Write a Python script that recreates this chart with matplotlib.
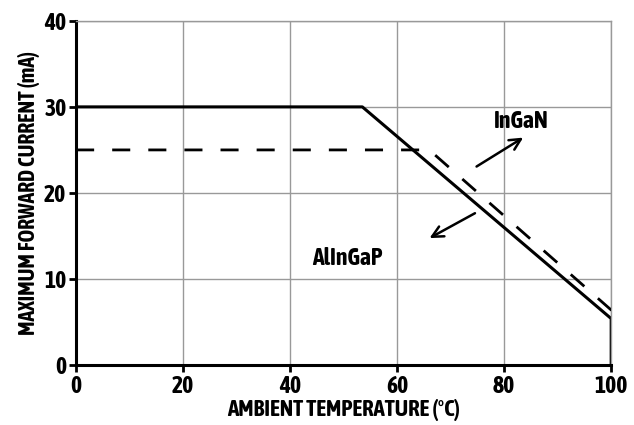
import matplotlib
matplotlib.use("Agg")
import matplotlib.pyplot as plt

# ---------- Data ----------
allingap_temp = [0, 53.5, 100, 100]
allingap_current = [30, 30, 5.4, 0]

ingan_temp = [0, 66, 100, 100]
ingan_current = [25, 25, 6.4, 7.3]

x_ticks = [0, 20, 40, 60, 80, 100]
y_ticks = [0, 10, 20, 30, 40]

FONT = ["Asap Condensed", "DejaVu Sans"]
plt.rcParams["font.family"] = FONT
plt.rcParams["font.weight"] = "bold"

fig = plt.figure(figsize=(6.34, 4.25), dpi=100)
ax = fig.add_axes([0.12, 0.141, 0.844, 0.81])

ax.plot(allingap_temp, allingap_current, color="black", lw=2.2, solid_capstyle="butt")
ax.plot(ingan_temp, ingan_current, color="black", lw=2.0, dashes=(6.5, 6.5), zorder=3)

# arrows + labels
ax.annotate("", xy=(84, 26.6), xytext=(74.4, 22.9),
            arrowprops=dict(arrowstyle="->", color="black", lw=1.8, mutation_scale=20))
ax.annotate("", xy=(65.6, 14.6), xytext=(75, 17.8),
            arrowprops=dict(arrowstyle="->", color="black", lw=1.8, mutation_scale=20))
ax.text(83.2, 28.3, "InGaN", ha="center", va="center", fontsize=17, fontweight="bold")
ax.text(50.6, 12.4, "AlInGaP", ha="center", va="center", fontsize=17, fontweight="bold")

ax.set_xlim(0, 100)
ax.set_ylim(0, 40)
ax.set_xticks(x_ticks)
ax.set_yticks(y_ticks)
ax.grid(True, color="#999999", lw=1.0)
ax.set_axisbelow(True)

for side in ["top", "right"]:
    ax.spines[side].set_color("#999999")
    ax.spines[side].set_linewidth(1.0)
for side in ["left", "bottom"]:
    ax.spines[side].set_color("black")
    ax.spines[side].set_linewidth(2.2)

ax.tick_params(direction="out", length=5, width=2, labelsize=17, pad=2)
for lbl in ax.get_xticklabels() + ax.get_yticklabels():
    lbl.set_fontweight("bold")

ax.set_xlabel("AMBIENT TEMPERATURE (°C)", fontsize=16.5, fontweight="bold", labelpad=1)
ax.set_ylabel("MAXIMUM FORWARD CURRENT (mA)", fontsize=15.5, fontweight="bold", labelpad=3)

fig.savefig("out.png", dpi=100)
